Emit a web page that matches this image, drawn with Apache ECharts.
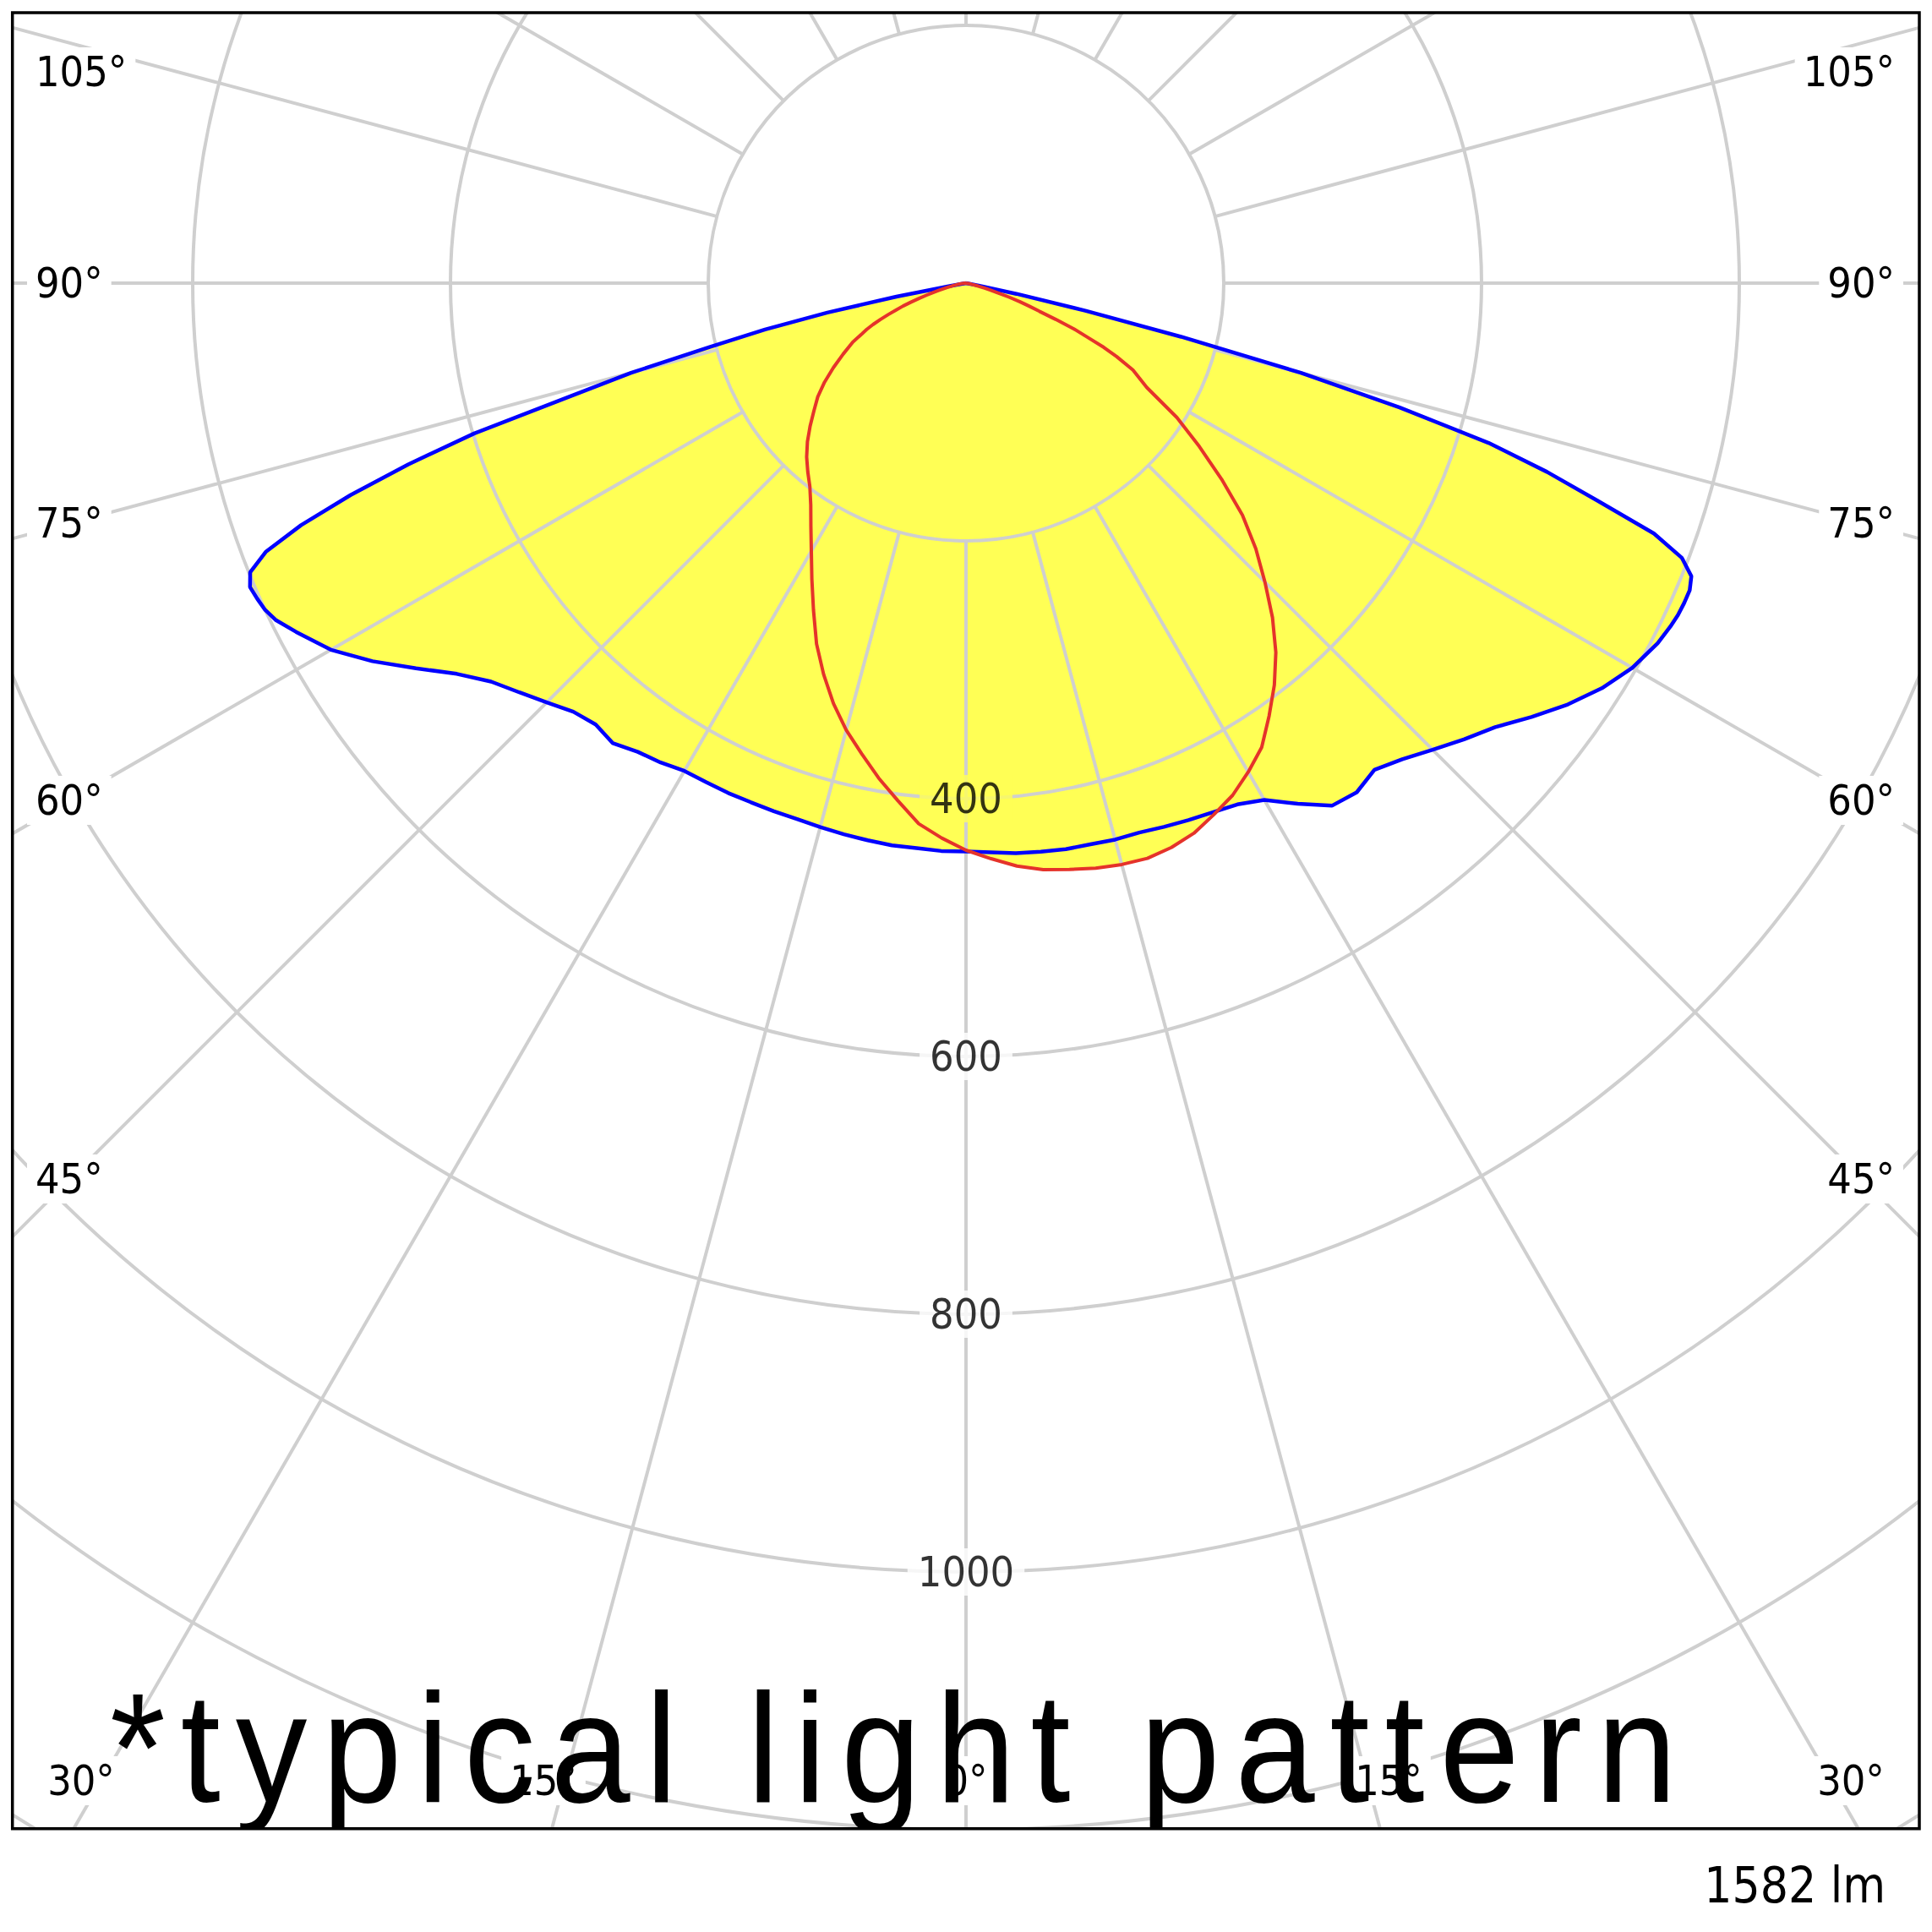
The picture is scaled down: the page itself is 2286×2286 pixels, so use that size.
<!DOCTYPE html>
<html>
<head>
<meta charset="utf-8">
<script src="https://cdn.jsdelivr.net/npm/echarts@6/dist/echarts.min.js"></script>
<style>
html, body { margin: 0; padding: 0; background: #fff; }
#c { width: 2286px; height: 2286px; }
#c text[style*="184px"] { letter-spacing: 19.5px; }
</style>
</head>
<body>
<div id="c"></div>
<script>
// ---- data (candela values) ----
const gammas = [0,2.5,5,7.5,10,12.5,15,17.5,20,22.5,25,27.5,30,32.5,35,37.5,40,42.5,45,47.5,50,52.5,55,57.5,60,62.5,
                64,65,66,67,68,69,70,71,72,73,74,75,76,77,78,79,80,82.5,85,87.5,90];
const blueLeft  = [441,441,440,440,439,438,437,436,436,436,436.5,436.5,437,441,444,450,447,451,460,470,481,498,521,546,569,586,
                   596,600,602,603.5,599,582,549,505,455,399,322,269,205,160,110,55,12,0,0,0,0];
const blueRight = [441,442,444,445,446,446,447,447,449,451,453,456,463,479,495,498,493,501,512,524,536,553,570,585,597,605,
                   608,609.5,610,610,607,595,568,518,474,424,350,269,172,95,40,10,0,0,0,0,0];
const redLeft   = [440,431,421,405,390,374,359,342,323,303,280,259,240,224,210,199,191,183,174,164,154,145,134,122,110,99,
                   90,85,79,72,65,58,52,45,38,32,27,22,18,15,12,10,8,5,3,1,0];
const redRight  = [440,447,454,459,462,465,467,468,466,462,455,448,438,427,410,393,374,352,328,305,280,250,221,194,162,146,
                   130,118,103,91,75,61,52,44,35,26,19,15,11,8,5,4,3,1,0,0,0];
const radiusTicks = [400, 600, 800, 1000];
const spokeAngles = [0,15,30,45,60,75,90,105,120,135,150,165,180,195,210,225,240,255,270,285,300,315,330,345];
const angleTicks = [0, 15, 30, 45, 60, 75, 90, 105];
const angleTickLabels = ['0°','15°','30°','45°','60°','75°','90°','105°'];
const fluxLabel = '1582 lm';
const noteLabel = '*typical light pattern';

// ---- layout constants ----
const CX = 1143, CY = 335, RMAX = 1600, RPX = 2440, RMIN_SPOKE = 200;
const FONT = '"DejaVu Sans Condensed", "DejaVu Sans", sans-serif';
const GRID = '#cfcfcf';
const FILL = '#ffff55';

// angle value: left side = gamma, right side = 360 - gamma (0 points down)
function buildCurve(left, right) {
  const pts = [];
  for (let i = gammas.length - 1; i >= 0; i--) pts.push([right[i], 360 - gammas[i]]);
  for (let i = 0; i < gammas.length; i++) pts.push([left[i], gammas[i]]);
  return pts;
}
const blueCurve = buildCurve(blueLeft, blueRight);
const redCurve = buildCurve(redLeft, redRight);
const fillReachDown = Math.max(blueLeft[0], redLeft[0]);

const chart = echarts.init(document.getElementById('c'), null, { renderer: 'svg', width: 2286, height: 2286 });

// angle labels placed along spokes, clamped inside the frame
const FRAME = { x: 14.7, y: 15, w: 2256.3, h: 2148.7 };
const LEFT_X = 32, RIGHT_X = 2252, COL_OFF = 1060, TOP_Y = 85, BOTTOM_Y = 2107, BOTTOM_DY = 1866;
const BOTTOM_MIN_X = 96, BOTTOM_MAX_X = 2190;
const frameBottom = FRAME.y + FRAME.h;
const labelEls = [];
angleTicks.forEach((g, i) => {
  const sides = g === 0 ? [0] : [-1, 1];
  sides.forEach(side => {
    const rad = g * Math.PI / 180;
    let x, y, align;
    if (g === 0) { x = CX; y = BOTTOM_Y; align = 'center'; }
    else {
      const ySide = CY + COL_OFF * Math.cos(rad) / Math.sin(rad);
      if (ySide <= BOTTOM_Y) {
        y = Math.max(ySide, TOP_Y);
        x = side < 0 ? LEFT_X : RIGHT_X;
        align = side < 0 ? 'left' : 'right';
      } else {
        y = BOTTOM_Y;
        x = CX + side * BOTTOM_DY * Math.tan(rad);
        x = Math.min(Math.max(x, BOTTOM_MIN_X), BOTTOM_MAX_X);
        align = 'center';
      }
    }
    labelEls.push({
      type: 'text', x: x, y: y, z: 8, silent: true,
      style: { text: angleTickLabels[i], font: '50px ' + FONT, fill: '#000',
        align: align, verticalAlign: 'middle', backgroundColor: '#fff', padding: [4, 10] }
    });
  });
});

const option = {
  animation: false,
  backgroundColor: '#fff',
  polar: { center: [CX, CY], radius: RPX },
  angleAxis: {
    type: 'value', min: 0, max: 360, startAngle: 270, clockwise: true, z: 1,
    axisLine: { show: false }, axisTick: { show: false }, axisLabel: { show: false }, splitLine: { show: false }
  },
  radiusAxis: {
    type: 'value', min: 0, max: RMAX, interval: 200, z: 1,
    axisLine: { show: false }, axisTick: { show: false }, axisLabel: { show: false },
    splitLine: { show: true, lineStyle: { color: GRID, width: 4 } }
  },
  series: [
    {
      type: 'custom', coordinateSystem: 'polar', z: -5, silent: true, data: [[0, 0]],
      renderItem: (p, api) => ({
        type: 'group',
        children: [blueCurve, redCurve].map(c => ({
          type: 'polygon', shape: { points: c.map(q => api.coord(q)) },
          style: { fill: FILL, stroke: null }
        }))
      })
    },
    {
      type: 'custom', coordinateSystem: 'polar', z: 1, silent: true,
      data: spokeAngles.map(a => [RMAX, a]),
      renderItem: (p, api) => {
        const a = api.value(1);
        const p0 = api.coord([RMIN_SPOKE, a]);
        const p1 = api.coord([RMAX, a]);
        return { type: 'line', shape: { x1: p0[0], y1: p0[1], x2: p1[0], y2: p1[1] },
          style: { stroke: GRID, lineWidth: 4 } };
      }
    },
    { type: 'line', name: 'C0-C180', coordinateSystem: 'polar', data: blueCurve, symbol: 'none',
      silent: true, z: 3, lineStyle: { color: '#0000ff', width: 4.5 } },
    { type: 'line', name: 'C90-C270', coordinateSystem: 'polar', data: redCurve, symbol: 'none',
      silent: true, z: 4, lineStyle: { color: '#e5332a', width: 4 } },
    {
      type: 'scatter', coordinateSystem: 'polar', z: 5, silent: true, symbolSize: 0,
      data: radiusTicks.map(r => ({
        value: [r, 0],
        label: { backgroundColor: r < fillReachDown ? FILL : '#fff' }
      })),
      label: { show: true, position: 'inside', formatter: p => String(p.value[0]),
        fontFamily: FONT, fontSize: 50, color: '#000', backgroundColor: '#fff', padding: [3, 12] }
    }
  ],
  graphic: [
    ...labelEls,
    { type: 'text', x: 130, y: 2068, scaleX: 0.92, z: 9, silent: true,
      style: { text: noteLabel, font: '184px "Liberation Sans", Arial, sans-serif', fill: '#000',
        align: 'left', verticalAlign: 'middle' } },
    { type: 'rect', z: 10, silent: true, shape: { x: 0, y: 0, width: 2286, height: FRAME.y }, style: { fill: '#fff' } },
    { type: 'rect', z: 10, silent: true, shape: { x: 0, y: 0, width: FRAME.x, height: 2286 }, style: { fill: '#fff' } },
    { type: 'rect', z: 10, silent: true, shape: { x: FRAME.x + FRAME.w, y: 0, width: 40, height: 2286 }, style: { fill: '#fff' } },
    { type: 'rect', z: 10, silent: true, shape: { x: 0, y: frameBottom, width: 2286, height: 200 }, style: { fill: '#fff' } },
    { type: 'rect', z: 11, silent: true, shape: { x: FRAME.x, y: FRAME.y, width: FRAME.w, height: FRAME.h },
      style: { fill: null, stroke: '#000', lineWidth: 3.5 } },
    { type: 'text', x: 2231, y: 2231, z: 13, silent: true,
      style: { text: fluxLabel, font: '58px ' + FONT, fill: '#000', align: 'right', verticalAlign: 'middle' } }
  ]
};
chart.setOption(option);
</script>
</body>
</html>
